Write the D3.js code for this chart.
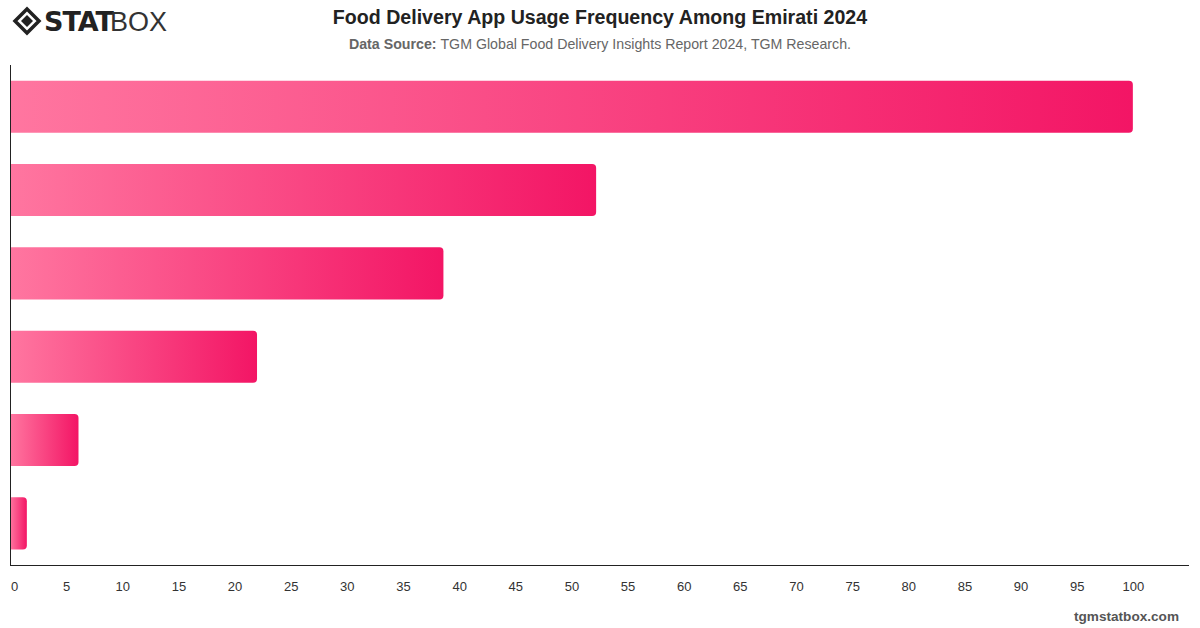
<!DOCTYPE html>
<html><head><meta charset="utf-8">
<script src="https://cdn.jsdelivr.net/npm/d3@7"></script>
<style>body{margin:0;background:#fff;}svg{display:block;font-family:"Helvetica Neue",Helvetica,Arial,"Liberation Sans",sans-serif;}</style>
</head><body>
<svg id="c" width="1200" height="628"></svg>
<script>
const categories = ["A", "B", "C", "D", "E", "F"];
const values = [100, 52.2, 38.6, 22.0, 6.1, 1.5];
const tickValues = [0,5,10,15,20,25,30,35,40,45,50,55,60,65,70,75,80,85,90,95,100];

(function () {
const svg = d3.select("#c");
const mLeft = 10, mRight = 1189, mTop = 65, mBottom = 565;

const x = d3.scaleLinear().domain([0, 105]).range([mLeft, mRight]);
const y = d3.scaleBand().domain(categories).range([mTop, mBottom]).paddingInner(0.375).paddingOuter(0.1875);

const defs = svg.append("defs");
const grad = defs.append("linearGradient").attr("id", "g").attr("x1", "0").attr("x2", "1").attr("y1", "0").attr("y2", "0");
grad.append("stop").attr("offset", "0%").attr("stop-color", "#ff76a0");
grad.append("stop").attr("offset", "100%").attr("stop-color", "#f31565");

// Title
svg.append("text").attr("x", 600).attr("y", 24).attr("text-anchor", "middle")
  .attr("font-size", 19.6).attr("font-weight", "bold").attr("fill", "#222")
  .text("Food Delivery App Usage Frequency Among Emirati 2024");
const sub = svg.append("text").attr("x", 600).attr("y", 49).attr("text-anchor", "middle")
  .attr("font-size", 14.2).attr("fill", "#666");
sub.append("tspan").attr("font-weight", "bold").text("Data Source: ");
sub.append("tspan").text("TGM Global Food Delivery Insights Report 2024, TGM Research.");

// Logo
const logo = svg.append("g").attr("transform", "translate(27,21)");
logo.append("path").attr("d", "M0,-12 L12,0 L0,12 L-12,0 Z").attr("fill", "none").attr("stroke", "#222").attr("stroke-width", 3.5);
logo.append("path").attr("d", "M0,-6 L6,0 L0,6 L-6,0 Z").attr("fill", "#222");
svg.append("text").attr("x", 44).attr("y", 31).attr("font-size", 27).attr("font-weight", 900)
  .attr("fill", "#222").attr("letter-spacing", -1).attr("font-family", "'DejaVu Sans', sans-serif").text("STAT");
svg.append("text").attr("x", 110).attr("y", 31).attr("font-size", 27).attr("font-weight", 300)
  .attr("fill", "#333").attr("font-family", "'Liberation Sans', sans-serif").text("BOX");

// Bars (right-rounded)
const r = 4;
svg.append("g").selectAll("path").data(values).join("path")
  .attr("fill", "url(#g)")
  .attr("d", (d, i) => {
    const x0 = x(0), x1 = x(d), y0 = y(categories[i]), h = y.bandwidth();
    const rr = Math.min(r, (x1 - x0) / 2);
    return `M${x0},${y0} H${x1 - rr} Q${x1},${y0} ${x1},${y0 + rr} V${y0 + h - rr} Q${x1},${y0 + h} ${x1 - rr},${y0 + h} H${x0} Z`;
  });

// Axes
svg.append("line").attr("x1", mLeft + 0.5).attr("x2", mLeft + 0.5).attr("y1", mTop).attr("y2", mBottom).attr("stroke", "#222");
svg.append("line").attr("x1", mLeft).attr("x2", mRight).attr("y1", mBottom + 0.5).attr("y2", mBottom + 0.5).attr("stroke", "#222");

const xAxis = svg.append("g").attr("transform", `translate(0,${mBottom})`)
  .call(d3.axisBottom(x).tickValues(tickValues).tickSize(0).tickPadding(17));
xAxis.select(".domain").remove();
xAxis.selectAll("text").attr("font-size", 13).attr("fill", "#333")
  .attr("font-family", "\"Helvetica Neue\",Helvetica,Arial,\"Liberation Sans\",sans-serif")
  .attr("dx", d => d === 0 ? 4 : 0);

// Watermark
svg.append("text").attr("x", 1179).attr("y", 621).attr("text-anchor", "end")
  .attr("font-size", 13.6).attr("font-weight", "bold").attr("fill", "#555").text("tgmstatbox.com");
})();
</script>
</body></html>
